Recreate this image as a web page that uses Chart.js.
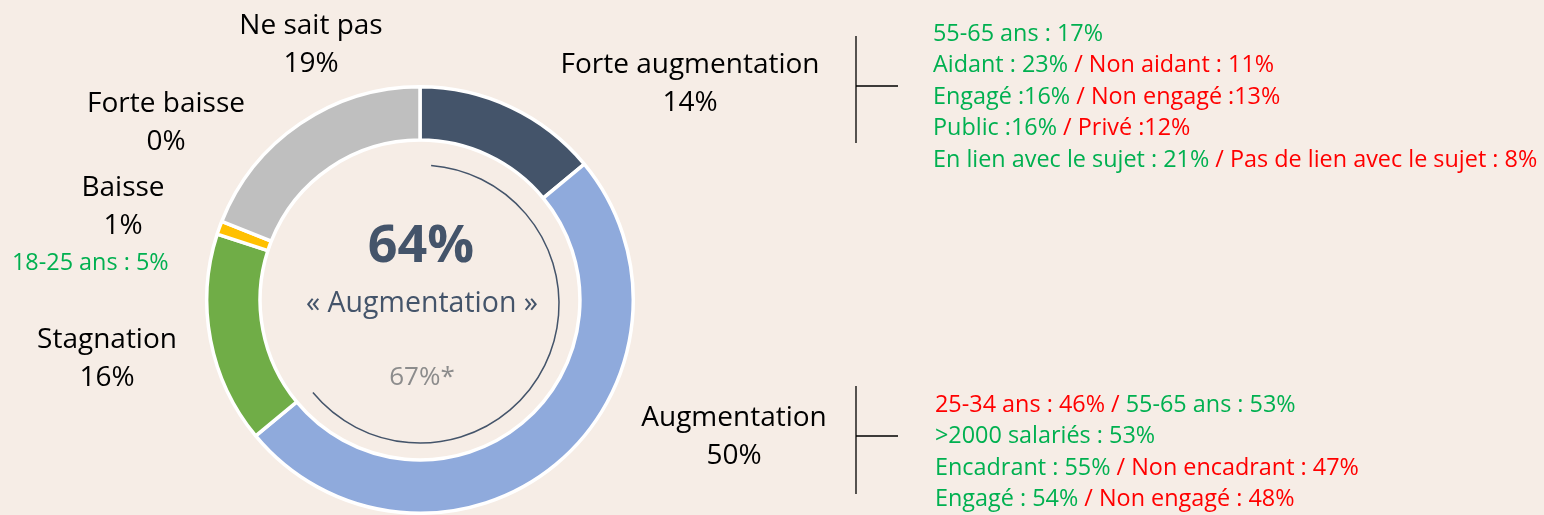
<!DOCTYPE html>
<html>
<head>
<meta charset="utf-8">
<script src="https://cdn.jsdelivr.net/npm/chart.js@4.4.1/dist/chart.umd.min.js"></script>
<style>
  html, body { margin: 0; padding: 0; background: #f6ede6; overflow: hidden; }
  #wrap { width: 1544px; height: 515px; }
</style>
</head>
<body>
<div id="wrap"><canvas id="donut" width="1544" height="515"></canvas></div>
<script>
// data
const categories = ['Forte augmentation', 'Augmentation', 'Stagnation', 'Baisse', 'Forte baisse', 'Ne sait pas'];
const values = [14, 50, 16, 1, 0, 19];
const colors = ['#44546a', '#8faadc', '#70ad47', '#ffc000', '#a5a5a5', '#bfbfbf'];
const previousValue = '67%*';
const centerCaption = '« Augmentation »';

// side notes : [text, colour] pieces per line
const G = '#00b050', R = '#ff0000';
const notesTop = [
    [['55-65 ans : 17%', G]],
    [['Aidant : 23% ', G], ['/ Non aidant : 11%', R]],
    [['Engagé :16% ', G], ['/ Non engagé :13%', R]],
    [['Public :16% ', G], ['/ Privé :12%', R]],
    [['En lien avec le sujet : 21% ', G], ['/ Pas de lien avec le sujet : 8%', R]]
];
const notesBottom = [
    [['25-34 ans : 46% / ', R], ['55-65 ans : 53%', G]],
    [['>2000 salariés : 53%', G]],
    [['Encadrant : 55% ', G], ['/ Non encadrant : 47%', R]],
    [['Engagé : 54% ', G], ['/ Non engagé : 48%', R]]
];
const noteBaisse = '18-25 ans : 5%';

// label placement (x centre, y of first line)
const labelPos = [
    [690, 65], [734, 418], [107, 340], [123, 188], [166, 104], [311, 26]
];

const FONT = '"Open Sans", "DejaVu Sans", sans-serif';

function drawPieces(ctx, pieces, x, y){
    pieces.forEach(p => {
        ctx.fillStyle = p[1];
        ctx.fillText(p[0], x, y);
        x += ctx.measureText(p[0]).width;
    });
}

const textPlugin = {
    id: 'texts',
    afterDatasetsDraw(chart){
        const ctx = chart.ctx;
        const arc = chart.getDatasetMeta(0).data[0];
        const cx = arc.x, cy = arc.y;
        const total = values.reduce((a, b) => a + b, 0);
        const up = values[0] + values[1];

        ctx.save();
        // thin arc inside the ring
        ctx.strokeStyle = '#44546a';
        ctx.lineWidth = 1.5;
        ctx.beginPath();
        ctx.arc(cx, cy + 4, 139, -Math.PI / 2 + 0.08, -Math.PI / 2 + 2 * Math.PI * up / total);
        ctx.stroke();

        ctx.textAlign = 'center';
        ctx.textBaseline = 'middle';
        ctx.fillStyle = '#44546a';
        ctx.font = 'bold 52px ' + FONT;
        ctx.fillText(Math.round(up / total * 100) + '%', cx + 1, cy - 53);
        ctx.font = '28.5px ' + FONT;
        ctx.fillText(centerCaption, cx + 2, cy + 4);
        ctx.fillStyle = '#8c8c8c';
        ctx.font = '26px ' + FONT;
        ctx.fillText(previousValue, cx + 2, cy + 78);

        // category labels
        ctx.fillStyle = '#000';
        ctx.font = '28px ' + FONT;
        categories.forEach((c, i) => {
            const p = labelPos[i];
            ctx.fillText(c, p[0], p[1]);
            ctx.fillText(Math.round(values[i] / total * 100) + '%', p[0], p[1] + 38);
        });

        ctx.font = '23.4px ' + FONT;
        ctx.fillStyle = G;
        ctx.textAlign = 'left';
        ctx.fillText(noteBaisse, 12, 263);

        // brackets
        ctx.strokeStyle = '#000';
        ctx.lineWidth = 1.3;
        [[36, 143, 86], [386, 494, 436]].forEach(b => {
            ctx.beginPath();
            ctx.moveTo(856, b[0]); ctx.lineTo(856, b[1]);
            ctx.moveTo(856, b[2]); ctx.lineTo(898, b[2]);
            ctx.stroke();
        });

        notesTop.forEach((line, i) => drawPieces(ctx, line, 933, 34 + i * 31.5));
        notesBottom.forEach((line, i) => drawPieces(ctx, line, 935, 405 + i * 31.5));
        ctx.restore();
    }
};

new Chart(document.getElementById('donut').getContext('2d'), {
    type: 'doughnut',
    data: {
        labels: categories,
        datasets: [{
            data: values,
            backgroundColor: colors,
            borderColor: '#ffffff',
            borderWidth: 3.5,
            hoverOffset: 0
        }]
    },
    options: {
        responsive: false,
        animation: false,
        devicePixelRatio: 1,
        cutout: '75%',
        layout: { padding: { left: 205, right: 909, top: 85, bottom: 0 } },
        plugins: {
            legend: { display: false },
            tooltip: { enabled: false }
        },
        events: []
    },
    plugins: [textPlugin]
});
</script>
</body>
</html>
